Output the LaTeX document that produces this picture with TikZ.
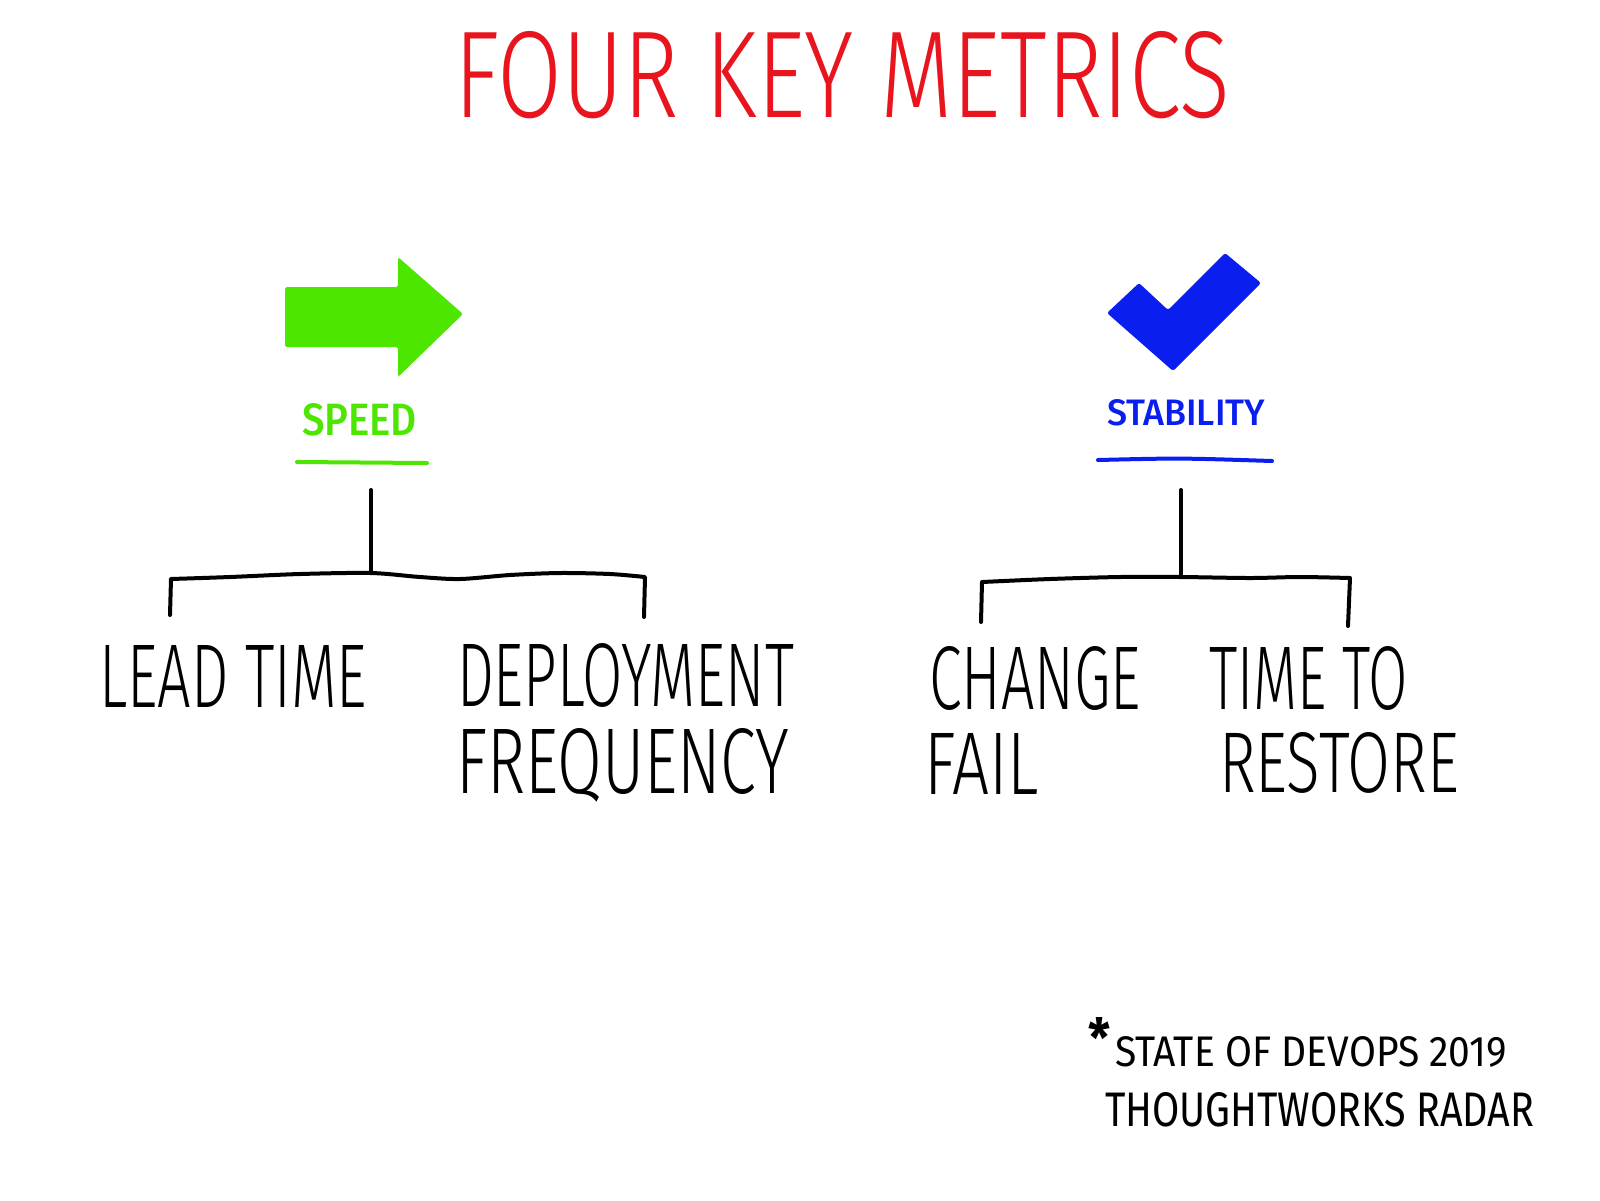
\documentclass[tikz,border=0pt]{standalone}
\usepackage{fontspec}
\setmainfont{Fira Sans Light}
\newfontfamily\medfont{Fira Sans Medium}
\newfontfamily\regfont{Fira Sans}
\newlength\px \setlength\px{0.3mm}
\newcommand\fitbox[3]{\resizebox{#1\px}{#2\px}{#3}}
\definecolor{tred}{RGB}{232,20,30}
\definecolor{tgreen}{RGB}{76,230,0}
\definecolor{tblue}{RGB}{10,30,240}
\begin{document}
\begin{tikzpicture}[x=0.3mm,y=-0.3mm,
  lbl/.style={inner sep=0pt,outer sep=0pt,anchor=base west},
  pen/.style={line width=1.2mm,line cap=round,line join=round},
  treeline/.style={pen,black}]
\useasboundingbox[fill=white] (0,0) rectangle (1600,1200);
% title
\node[lbl,text=tred] (title) at (454,117) {\fitbox{776}{86}{FOUR KEY METRICS}};
% speed arrow
\fill[tgreen,rounded corners=2pt] (285,287) -- (398,287) -- (398,257) -- (463,314) -- (398,377) -- (398,347) -- (285,347) -- cycle;
\node[lbl,text=tgreen] (speed) at (302,435) {\fitbox{115}{32}{\medfont SPEED}};
\coordinate (spul) at (297,462);
\coordinate (spur) at (427,463);
\draw[pen,tgreen] (spul) -- (spur);
% stability check
\fill[tblue,rounded corners=2pt] (1107,313) -- (1139,283) -- (1168,310) -- (1225,253) -- (1261,283) -- (1173,371) -- cycle;
\node[lbl,text=tblue] (stab) at (1107,425) {\fitbox{158}{26}{\medfont STABILITY}};
\coordinate (stul) at (1098,460);
\coordinate (stur) at (1272,461);
\draw[pen,tblue] (stul) .. controls (1180,458) .. (stur);
% speed tree
\coordinate (sptop) at (371,490);
\coordinate (spjoin) at (371,573);
\coordinate (spl) at (171,579);
\coordinate (spr) at (645,577);
\coordinate (splend) at (170,615);
\coordinate (sprend) at (644,617);
\draw[treeline] (sptop) -- (spjoin);
\draw[treeline] (splend) -- (spl) plot[smooth] coordinates {(171,579) (230,577) (300,574) (371,573) (420,577) (460,579) (510,575) (560,573) (610,574) (645,577)} -- (sprend);
% stability tree
\coordinate (sttop) at (1181,490);
\coordinate (stjoin) at (1181,576);
\coordinate (stl) at (982,582);
\coordinate (str) at (1350,578);
\coordinate (stlend) at (981,622);
\coordinate (strend) at (1348,626);
\draw[treeline] (sttop) -- (stjoin);
\draw[treeline] (stlend) -- (stl) plot[smooth] coordinates {(982,582) (1050,579) (1120,577) (1181,577) (1250,578) (1300,577) (1350,578)} -- (strend);
% labels
\node[lbl] (lead) at (99,707) {\fitbox{268}{62}{LEAD TIME}};
\node[lbl] (deploy) at (457,706) {\fitbox{337}{63}{DEPLOYMENT}};
\node[lbl] (freq) at (456,793) {\fitbox{333}{65}{FREQUENCY}};
\node[lbl] (change) at (929,709) {\fitbox{212}{63}{CHANGE}};
\node[lbl] (fail) at (924,794) {\fitbox{115}{61}{FAIL}};
\node[lbl] (timeto) at (1209,709) {\fitbox{199}{63}{TIME TO}};
\node[lbl] (restore) at (1219,792) {\fitbox{240}{60}{RESTORE}};
% footnote
\node[lbl] (star) at (1088,1057) {\fitbox{22}{40}{\regfont\bfseries *}};
\node[lbl] (state) at (1115,1066) {\fitbox{392}{30}{\regfont STATE OF DEVOPS 2019}};
\node[lbl] (tw) at (1105,1126) {\fitbox{429}{34}{\regfont THOUGHTWORKS RADAR}};
\end{tikzpicture}
\end{document}
